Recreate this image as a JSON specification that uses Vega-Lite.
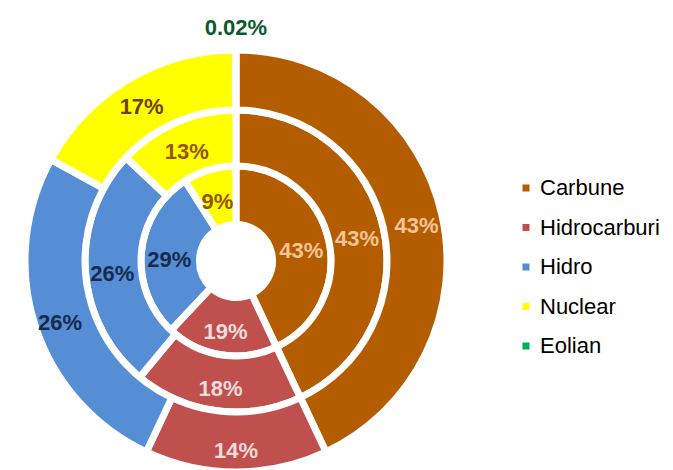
{
  "$schema": "https://vega.github.io/schema/vega-lite/v6.json",
  "width": 472,
  "height": 418,
  "autosize": {"type": "none"},
  "padding": {"left": 0, "top": 52, "right": 201, "bottom": 0},
  "background": "white",
  "config": {
    "view": {"stroke": null},
    "text": {"font": "Liberation Sans", "fontWeight": "bold", "fontSize": 22, "dy": 5},
    "legend": {
      "orient": "none",
      "legendX": 515,
      "legendY": 125,
      "padding": 0,
      "title": null,
      "symbolType": "square",
      "symbolSize": 49,
      "symbolStrokeWidth": 0,
      "labelFont": "Liberation Sans",
      "labelFontSize": 22,
      "labelColor": "black",
      "labelOffset": 3,
      "rowPadding": 17.5
    }
  },
  "data": {
    "values": [
      {"ring": "inner", "cat": "Carbune", "value": 43, "label": "43%", "order": 1},
      {"ring": "inner", "cat": "Hidrocarburi", "value": 19, "label": "19%", "order": 2},
      {"ring": "inner", "cat": "Hidro", "value": 29, "label": "29%", "order": 3},
      {"ring": "inner", "cat": "Nuclear", "value": 9, "label": "9%", "order": 4},
      {"ring": "middle", "cat": "Carbune", "value": 43, "label": "43%", "order": 1},
      {"ring": "middle", "cat": "Hidrocarburi", "value": 18, "label": "18%", "order": 2},
      {"ring": "middle", "cat": "Hidro", "value": 26, "label": "26%", "order": 3},
      {"ring": "middle", "cat": "Nuclear", "value": 13, "label": "13%", "order": 4},
      {"ring": "outer", "cat": "Carbune", "value": 43, "label": "43%", "order": 1},
      {"ring": "outer", "cat": "Hidrocarburi", "value": 14, "label": "14%", "order": 2},
      {"ring": "outer", "cat": "Hidro", "value": 26, "label": "26%", "order": 3},
      {"ring": "outer", "cat": "Nuclear", "value": 17, "label": "17%", "order": 4},
      {"ring": "outer", "cat": "Eolian", "value": 0.02, "label": "0.02%", "order": 5}
    ]
  },
  "encoding": {
    "theta": {"field": "value", "type": "quantitative", "stack": "normalize"},
    "order": {"field": "order", "type": "quantitative"}
  },
  "layer": [
    {
      "transform": [{"filter": "datum.ring === 'inner'"}],
      "mark": {"type": "arc", "radius": 95, "radius2": 36.5, "stroke": "white", "strokeWidth": 7},
      "encoding": {
        "color": {
          "field": "cat", "type": "nominal",
          "scale": {"domain": ["Carbune", "Hidrocarburi", "Hidro", "Nuclear", "Eolian"], "range": ["#B45C00", "#C0504D", "#558ED5", "#FFFF00", "#00B050"]},
          "sort": ["Carbune", "Hidrocarburi", "Hidro", "Nuclear", "Eolian"]
        }
      }
    },
    {
      "transform": [{"filter": "datum.ring === 'middle'"}],
      "mark": {"type": "arc", "radius": 151, "radius2": 95, "stroke": "white", "strokeWidth": 7},
      "encoding": {"color": {"field": "cat", "type": "nominal"}}
    },
    {
      "transform": [{"filter": "datum.ring === 'outer'"}],
      "mark": {"type": "arc", "radius": 211, "radius2": 151, "stroke": "white", "strokeWidth": 7},
      "encoding": {"color": {"field": "cat", "type": "nominal"}}
    },
    {
      "transform": [{"filter": "datum.ring === 'inner'"}],
      "mark": {"type": "text", "radius": 67},
      "encoding": {
        "text": {"field": "label"},
        "color": {"condition": [
          {"test": "datum.cat === 'Carbune'", "value": "#F9C499"},
          {"test": "datum.cat === 'Hidrocarburi'", "value": "#F2DCDB"},
          {"test": "datum.cat === 'Hidro'", "value": "#172B4D"}
        ], "value": "#985300"}
      }
    },
    {
      "transform": [{"filter": "datum.ring === 'middle'"}],
      "mark": {"type": "text", "radius": 124},
      "encoding": {
        "text": {"field": "label"},
        "color": {"condition": [
          {"test": "datum.cat === 'Carbune'", "value": "#F9C499"},
          {"test": "datum.cat === 'Hidrocarburi'", "value": "#F2DCDB"},
          {"test": "datum.cat === 'Hidro'", "value": "#172B4D"}
        ], "value": "#985300"}
      }
    },
    {
      "transform": [{"filter": "datum.ring === 'outer'"}],
      "mark": {"type": "text", "radius": 185},
      "encoding": {
        "text": {"condition": {"test": "datum.cat !== 'Eolian'", "field": "label"}, "value": ""},
        "color": {"condition": [
          {"test": "datum.cat === 'Carbune'", "value": "#F9C499"},
          {"test": "datum.cat === 'Hidrocarburi'", "value": "#F2DCDB"},
          {"test": "datum.cat === 'Hidro'", "value": "#172B4D"}
        ], "value": "#6E4000"}
      }
    },
    {
      "transform": [{"filter": "datum.ring === 'outer'"}],
      "mark": {"type": "text", "radius": 236, "color": "#0B5A2E", "dy": 3},
      "encoding": {
        "text": {"condition": {"test": "datum.cat === 'Eolian'", "field": "label"}, "value": ""}
      }
    }
  ]
}
